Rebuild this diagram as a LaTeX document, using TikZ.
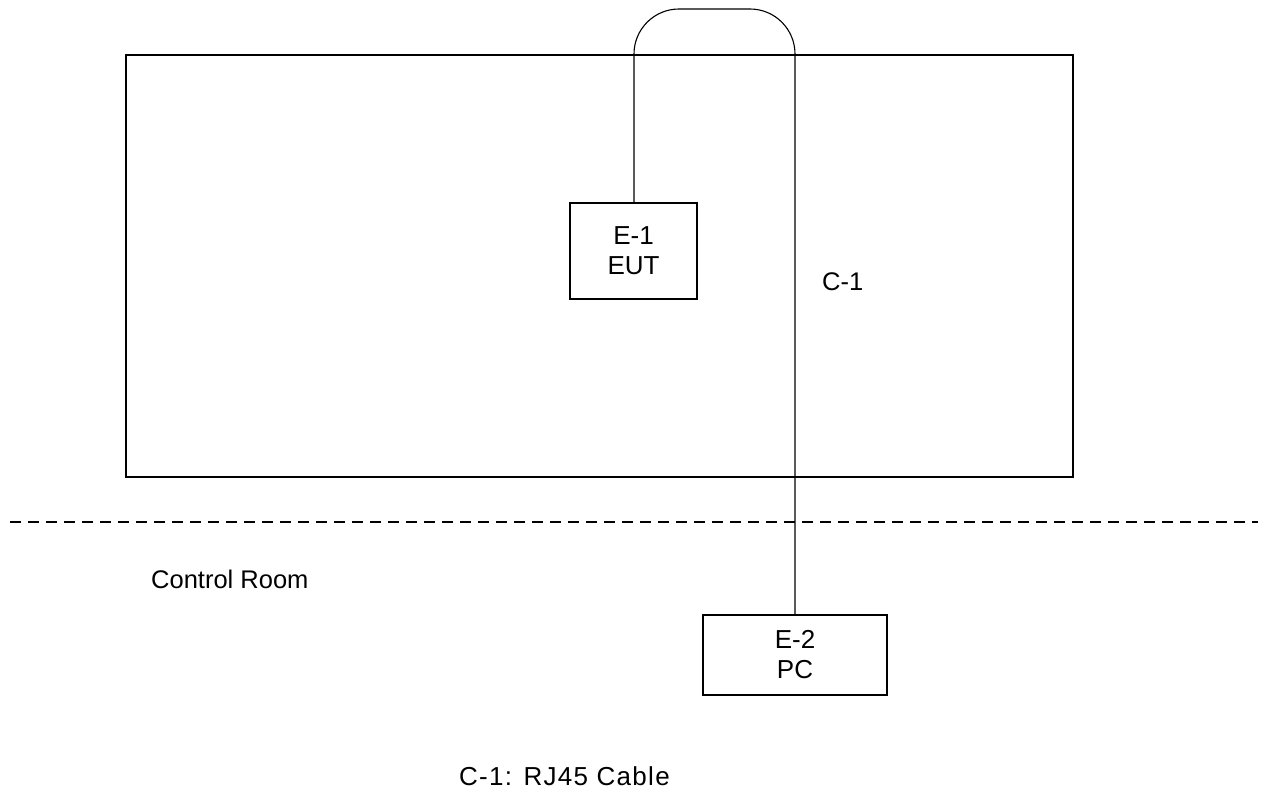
\documentclass[tikz,border=0pt]{standalone}
\usepackage{fontspec}
\setmainfont{Liberation Sans}
\newfontfamily\widesans[LetterSpace=5]{Liberation Sans}
\begin{document}
\begin{tikzpicture}[x=1pt,y=-1pt,
  box/.style={draw,line width=1.3pt,inner sep=0pt,align=center,font=\fontsize{26}{30}\selectfont},
  lbl/.style={inner sep=0pt,font=\fontsize{25.5}{28}\selectfont},
  cable/.style={line width=1.1pt}]
\useasboundingbox (0,0) rectangle (1263,792);
\draw[line width=1.3pt] (126,55) rectangle (1073,477);
\draw[line width=1.3pt,dash pattern=on 11pt off 7pt] (10,522) -- (1258,522);
\node[box,minimum width=127pt,minimum height=96pt] (e1) at (633.5,251) {E-1\\EUT};
\node[box,minimum width=184pt,minimum height=80pt] (e2) at (795,655) {E-2\\PC};
\draw[cable,rounded corners=45pt] (e1.north -| 634,0) -- (634,9) -- (795,9) -- (e2.north -| 795,0);
\node[lbl,anchor=west] (c1) at (822,282) {C-1};
\node[lbl,anchor=west] (cr) at (151,579) {Control Room};
\node[lbl,font=\widesans\fontsize{26}{28}\selectfont] (leg) at (564.5,776) {C-1: RJ45 Cable};
\end{tikzpicture}
\end{document}
